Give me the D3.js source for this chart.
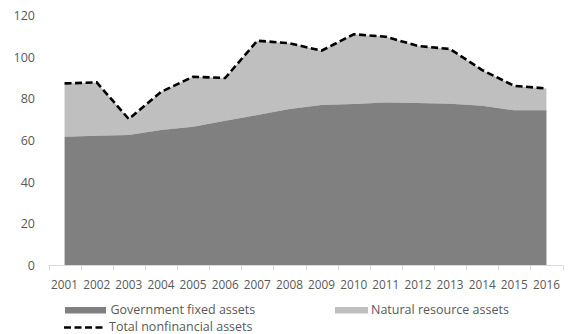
<!DOCTYPE html>
<html><head><meta charset="utf-8">
<script src="https://cdn.jsdelivr.net/npm/d3@7"></script>
<style>body{margin:0;background:#fff}svg{display:block}</style>
</head><body>
<svg id="chart" width="570" height="334"></svg>
<script>
const years = ["2001","2002","2003","2004","2005","2006","2007","2008","2009","2010","2011","2012","2013","2014","2015","2016"];
const govFixed = [61.8, 62.3, 62.6, 65.0, 66.6, 69.5, 72.2, 75.1, 77.0, 77.5, 78.3, 78.0, 77.7, 76.7, 74.5, 74.5];
const totalNonfin = [87.4, 87.9, 70.3, 83.3, 90.6, 90.0, 107.9, 106.7, 103.1, 111.0, 109.8, 105.4, 103.9, 93.8, 86.2, 85.0];
const natural = totalNonfin.map((t, i) => +(t - govFixed[i]).toFixed(1));
const yTicks = [0, 20, 40, 60, 80, 100, 120];
const legendLabels = ["Government fixed assets", "Natural resource assets", "Total nonfinancial assets"];

const svg = d3.select("#chart");
const font = "'Open Sans', sans-serif";
const txt = "#595959";

const x = d3.scaleBand().domain(years).range([48.5, 562.5]).padding(0);
const cx = d => x(d) + x.bandwidth() / 2;
const y = d3.scaleLinear().domain([0, 120]).range([265.5, 15.5]);

const data = years.map((yr, i) => ({ yr, gov: govFixed[i], nat: natural[i], tot: totalNonfin[i] }));

// natural resource area (stacked on gov)
svg.append("path").datum(data)
  .attr("fill", "#bfbfbf")
  .attr("d", d3.area().x(d => cx(d.yr)).y0(d => y(d.gov)).y1(d => y(d.gov + d.nat)));
// gov area
svg.append("path").datum(data)
  .attr("fill", "#808080")
  .attr("d", d3.area().x(d => cx(d.yr)).y0(y(0)).y1(d => y(d.gov)));
// total line
svg.append("path").datum(data)
  .attr("fill", "none").attr("stroke", "#000").attr("stroke-width", 2.6)
  .attr("stroke-dasharray", "7,3.5")
  .attr("d", d3.line().x(d => cx(d.yr)).y(d => y(d.tot)));

// x axis
const xa = svg.append("g").attr("transform", `translate(0,${y(0)})`);
xa.append("line").attr("x1", 48.5).attr("x2", 562.5).attr("stroke", "#d9d9d9").attr("stroke-width", 1);
const bounds = years.map(d => x(d)).concat([x(years[years.length - 1]) + x.bandwidth()]);
xa.selectAll("line.tk").data(bounds).enter().append("line").attr("class", "tk")
  .attr("x1", d => Math.round(d) + 0.5).attr("x2", d => Math.round(d) + 0.5)
  .attr("y1", 0).attr("y2", 5).attr("stroke", "#d9d9d9");
xa.selectAll("text").data(years).enter().append("text")
  .attr("x", d => cx(d)).attr("y", 23).attr("text-anchor", "middle")
  .attr("font-family", font).attr("font-size", 11.8).attr("fill", txt).text(d => d);

// y axis labels
svg.selectAll("text.yl").data(yTicks).enter().append("text").attr("class", "yl")
  .attr("x", 35).attr("y", d => y(d)).attr("dy", "0.35em").attr("text-anchor", "end")
  .attr("font-family", font).attr("font-size", 12.5).attr("fill", txt).text(d => d);

// legend
const lg = svg.append("g").attr("font-family", font).attr("font-size", 12.5).attr("fill", txt);
lg.append("rect").attr("x", 65).attr("y", 307).attr("width", 41).attr("height", 6.5).attr("fill", "#808080");
lg.append("text").attr("x", 110.5).attr("y", 310).attr("dy", "0.35em").text(legendLabels[0]);
lg.append("rect").attr("x", 335).attr("y", 307).attr("width", 33).attr("height", 6.5).attr("fill", "#bfbfbf");
lg.append("text").attr("x", 371).attr("y", 310).attr("dy", "0.35em").text(legendLabels[1]);
lg.append("line").attr("x1", 64).attr("x2", 106).attr("y1", 327.5).attr("y2", 327.5)
  .attr("stroke", "#000").attr("stroke-width", 2.6).attr("stroke-dasharray", "7,3.5");
lg.append("text").attr("x", 109).attr("y", 326.5).attr("dy", "0.35em").text(legendLabels[2]);
</script>
</body></html>
